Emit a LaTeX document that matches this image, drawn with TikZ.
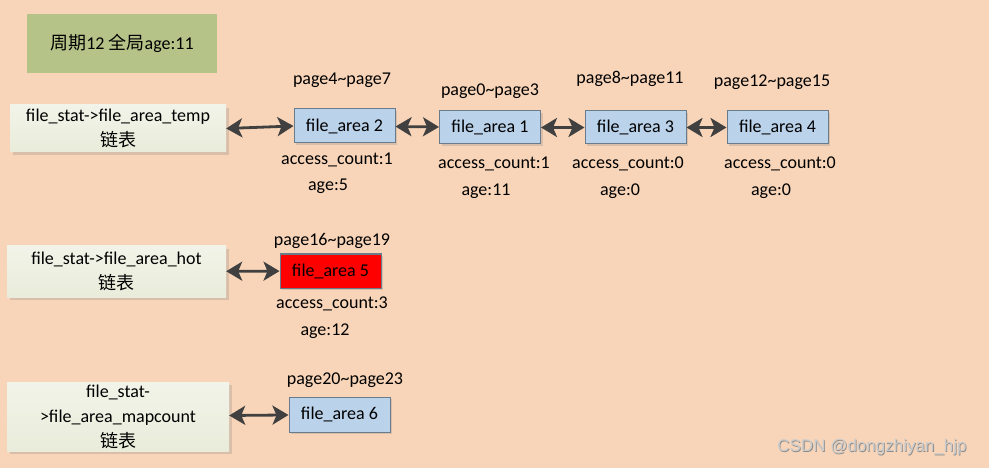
\documentclass[tikz,border=0pt]{standalone}
\usepackage{fontspec}
\setmainfont{Carlito}
\newfontfamily\cjk{Noto Sans CJK SC}
\newfontfamily\wmfont{Liberation Sans}
\usetikzlibrary{arrows.meta,shadows}
\definecolor{bgpeach}{HTML}{F8D5B8}
\definecolor{titlegreen}{HTML}{B5C388}
\definecolor{listfill}{HTML}{E9ECDA}
\definecolor{areablue}{HTML}{BAD2EA}
\definecolor{areaborder}{HTML}{6A7B8C}
\definecolor{arrowgray}{HTML}{404040}
\tikzset{
  txt/.style={font=\fontsize{18}{25}\selectfont, inner sep=0pt, text=black},
  titlebox/.style={txt, fill=titlegreen, minimum width=190pt, minimum height=59pt},
  listbox/.style={txt, align=center, top color=listfill!60!white, bottom color=listfill,
    drop shadow={shadow xshift=3pt, shadow yshift=-3pt, opacity=0.25, fill=gray}},
  areabox/.style={txt, draw=areaborder, line width=1pt, fill=areablue,
    minimum width=101pt, minimum height=34pt,
    drop shadow={shadow xshift=2pt, shadow yshift=-2pt, opacity=0.25, fill=gray}},
  hotbox/.style={areabox, fill=red},
  link/.style={draw=arrowgray, line width=2.8pt,
    {Stealth[length=16pt,width=19pt,inset=4pt]}-{Stealth[length=16pt,width=19pt,inset=4pt]}},
}
\begin{document}
\begin{tikzpicture}[x=1pt,y=-1pt]
\fill[bgpeach] (0,0) rectangle (989,468);
\useasboundingbox (0,0) rectangle (989,468);

\node[titlebox] (title) at (122,43.5) {{\cjk 周期}12 {\cjk 全局}age:11};

\node[listbox, minimum width=216pt, minimum height=47pt] (ltemp) at (118,128.5)
  {file\_stat->file\_area\_temp\\{\cjk 链表}};
\node[listbox, minimum width=219pt, minimum height=51pt] (lhot) at (116.5,271.5)
  {file\_stat->file\_area\_hot\\{\cjk 链表}};
\node[listbox, minimum width=222pt, minimum height=69pt] (lmap) at (118,416.5)
  {file\_stat-\\>file\_area\_mapcount\\{\cjk 链表}};

\node[areabox] (fa2) at (344.5,126) {file\_area 2};
\node[areabox, minimum height=33pt] (fa1) at (490,127.5) {file\_area 1};
\node[areabox, minimum height=33pt] (fa3) at (635.5,127.5) {file\_area 3};
\node[areabox, minimum height=33pt] (fa4) at (777.5,127.5) {file\_area 4};
\node[hotbox] (fa5) at (330.5,271) {file\_area 5};
\node[areabox, minimum height=35pt] (fa6) at (339.5,414.5) {file\_area 6};

\node[txt] (p2) at (342,80) {page4\textasciitilde page7};
\node[txt] (c2) at (337,160) {access\_count:1};
\node[txt] (a2) at (328,186) {age:5};

\node[txt] (p1) at (490,91) {page0\textasciitilde page3};
\node[txt] (c1) at (494,164) {access\_count:1};
\node[txt] (a1) at (486,191) {age:11};

\node[txt] (p3) at (630,79) {page8\textasciitilde page11};
\node[txt] (c3) at (628,164) {access\_count:0};
\node[txt] (a3) at (620,191) {age:0};

\node[txt] (p4) at (772,82) {page12\textasciitilde page15};
\node[txt] (c4) at (780,164) {access\_count:0};
\node[txt] (a4) at (771,191) {age:0};

\node[txt] (p5) at (332,241) {page16\textasciitilde page19};
\node[txt] (c5) at (332,304) {access\_count:3};
\node[txt] (a5) at (325,331) {age:12};

\node[txt] (p6) at (345,380) {page20\textasciitilde page23};

\draw[link] (ltemp.east) -- (fa2.west);
\draw[link] (fa2) -- (fa1);
\draw[link] (fa1) -- (fa3);
\draw[link] (fa3) -- (fa4);
\draw[link] (lhot) -- (fa5);
\draw[link] (lmap) -- (fa6);

\node[font=\wmfont\fontsize{17}{20}\selectfont, text=black!45, inner sep=0pt] at (872.8,447.8) {CSDN @dongzhiyan\_hjp};
\node[font=\wmfont\fontsize{17}{20}\selectfont, text=black!20, inner sep=0pt] (wm) at (872,447) {CSDN @dongzhiyan\_hjp};
\end{tikzpicture}
\end{document}
